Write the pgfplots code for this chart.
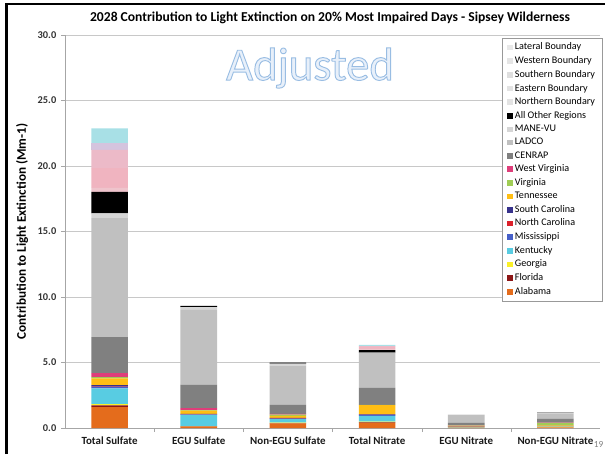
\documentclass[border=0pt]{standalone}
\usepackage{fontspec}
\setmainfont{Carlito}
\usepackage{pgfplots}
\usepackage{pgfplotstable}
\pgfplotsset{compat=1.18}

\definecolor{cAL}{RGB}{228,108,28}
\definecolor{cFL}{RGB}{140,22,22}
\definecolor{cGA}{RGB}{250,240,40}
\definecolor{cKY}{RGB}{88,204,226}
\definecolor{cMS}{RGB}{70,95,200}
\definecolor{cNC}{RGB}{220,32,42}
\definecolor{cSC}{RGB}{55,50,140}
\definecolor{cTN}{RGB}{255,190,20}
\definecolor{cVA}{RGB}{160,205,85}
\definecolor{cWV}{RGB}{222,62,122}
\definecolor{cCEN}{RGB}{128,128,128}
\definecolor{cLAD}{RGB}{192,192,192}
\definecolor{cMANE}{RGB}{214,214,214}
\definecolor{cNorth}{RGB}{238,196,204}
\definecolor{cEast}{RGB}{240,180,192}
\definecolor{cSouth}{RGB}{236,186,200}
\definecolor{cWest}{RGB}{212,196,222}
\definecolor{cLat}{RGB}{168,224,230}
\definecolor{gridc}{RGB}{200,200,200}
\definecolor{wmfill}{RGB}{232,240,250}

% contribution (Mm-1) by source region, one row per category
\pgfplotstableread{
x AL   FL   GA   KY   MS   NC   SC   TN   VA   WV   CEN  LAD  MANE Other North East South West Lat
0 1.60 0.12 0.10 1.20 0.10 0.03 0.13 0.50 0.10 0.30 2.75 9.10 0.35 1.65  0.30  1.50 1.40  0.50 1.15
1 0.10 0.02 0.03 0.85 0.02 0.02 0.03 0.25 0.05 0.15 1.80 5.70 0.20 0.10  0.00  0.00 0.00  0.00 0.00
2 0.35 0.02 0.05 0.25 0.03 0.02 0.05 0.15 0.10 0.05 0.70 3.00 0.15 0.08  0.00  0.00 0.00  0.00 0.00
3 0.40 0.03 0.05 0.45 0.05 0.02 0.05 0.70 0.02 0.00 1.30 2.65 0.03 0.20  0.10  0.15 0.05  0.00 0.10
4 0.02 0.00 0.01 0.05 0.01 0.01 0.01 0.05 0.02 0.02 0.20 0.60 0.02 0.00  0.00  0.00 0.00  0.00 0.00
5 0.05 0.00 0.05 0.03 0.01 0.01 0.02 0.03 0.20 0.02 0.30 0.40 0.03 0.02  0.00  0.00 0.00  0.00 0.00
}\sipsey

\begin{document}
\begin{tikzpicture}
\useasboundingbox (0pt,0pt) rectangle (453.75pt,340.5pt);
\begin{axis}[
  at={(48.75pt,19.5pt)}, anchor=south west,
  scale only axis, width=401.25pt, height=294.75pt,
  ybar stacked, bar width=0.41,
  xmin=-0.5, xmax=5.5, ymin=0, ymax=30,
  xtick={0,...,5},
  xticklabels={Total Sulfate,EGU Sulfate,Non-EGU Sulfate,Total Nitrate,EGU Nitrate,Non-EGU Nitrate},
  minor xtick={0.5,1.5,2.5,3.5,4.5},
  major x tick style={draw=none},
  minor x tick style={draw=gray!70},
  ytick={0,5,...,30},
  y tick style={draw=gray!70},
  tick align=outside,
  major tick length=3pt, minor tick length=3pt,
  /pgf/number format/assume math mode=true,
  yticklabel style={font=\fontsize{7.8}{8}\selectfont\bfseries, text=black!80,
    /pgf/number format/.cd, fixed, fixed zerofill, precision=1},
  xticklabel style={font=\fontsize{8.2}{9}\selectfont\bfseries, text=black!90},
  axis x line*=bottom, axis y line*=left,
  axis line style={draw=gray!70, -},
  ymajorgrids, major grid style={draw=gridc, line width=0.6pt},
  every axis plot/.append style={draw=none},
  legend image code/.code={\fill[#1] (0pt,-2.1pt) rectangle (4.2pt,2.1pt);},
  reverse legend,
  legend cell align=left,
  legend style={at={(1.005,0.992)}, anchor=north east, draw=gray!80, fill=white,
    font=\fontsize{7.6}{8}\selectfont, row sep=0.3pt, inner xsep=4pt, inner ysep=1.8pt,
    nodes={inner ysep=1.6pt, inner xsep=1.5pt},
    /tikz/every even column/.append style={column sep=1pt}},
]
\addplot[fill=cAL] table[x=x,y=AL]{\sipsey};
\addplot[fill=cFL] table[x=x,y=FL]{\sipsey};
\addplot[fill=cGA] table[x=x,y=GA]{\sipsey};
\addplot[fill=cKY] table[x=x,y=KY]{\sipsey};
\addplot[fill=cMS] table[x=x,y=MS]{\sipsey};
\addplot[fill=cNC] table[x=x,y=NC]{\sipsey};
\addplot[fill=cSC] table[x=x,y=SC]{\sipsey};
\addplot[fill=cTN] table[x=x,y=TN]{\sipsey};
\addplot[fill=cVA] table[x=x,y=VA]{\sipsey};
\addplot[fill=cWV] table[x=x,y=WV]{\sipsey};
\addplot[fill=cCEN] table[x=x,y=CEN]{\sipsey};
\addplot[fill=cLAD] table[x=x,y=LAD]{\sipsey};
\addplot[fill=cMANE] table[x=x,y=MANE]{\sipsey};
\addplot[fill=black] table[x=x,y=Other]{\sipsey};
\addplot[fill=cNorth, legend image code/.code={\fill[gray!22] (0pt,-2.1pt) rectangle (4.2pt,2.1pt);}] table[x=x,y=North]{\sipsey};
\addplot[fill=cEast, legend image code/.code={\fill[gray!22] (0pt,-2.1pt) rectangle (4.2pt,2.1pt);}] table[x=x,y=East]{\sipsey};
\addplot[fill=cSouth, legend image code/.code={\fill[gray!26] (0pt,-2.1pt) rectangle (4.2pt,2.1pt);}] table[x=x,y=South]{\sipsey};
\addplot[fill=cWest, legend image code/.code={\fill[gray!20] (0pt,-2.1pt) rectangle (4.2pt,2.1pt);}] table[x=x,y=West]{\sipsey};
\addplot[fill=cLat, legend image code/.code={\fill[gray!18] (0pt,-2.1pt) rectangle (4.2pt,2.1pt);}] table[x=x,y=Lat]{\sipsey};
\legend{Alabama,Florida,Georgia,Kentucky,Mississippi,North Carolina,South Carolina,Tennessee,Virginia,West Virginia,CENRAP,LADCO,MANE-VU,All Other Regions,Northern Boundary,Eastern Boundary,Southern Boundary,Western Boundary,Lateral Bounday}
\end{axis}
\node[font=\fontsize{10.2}{12}\selectfont\bfseries] at (247.5pt,327pt)
  {2028 Contribution to Light Extinction on 20\% Most Impaired Days - Sipsey Wilderness};
\node[rotate=90, font=\fontsize{9.9}{12}\selectfont\bfseries] at (16.5pt,166.9pt)
  {Contribution to Light Extinction (Mm-1)};
\node[font=\fontsize{35}{35}\selectfont, text=wmfill] at (232.5pt,289.5pt)
  {\special{pdf:code q 2 Tr 0.7 w 0.6 0.74 0.89 RG}Adjusted\special{pdf:code Q}};
\node[font=\fontsize{7}{8}\selectfont, text=gray] at (449pt,7pt) {19};
\draw[line width=2.2pt] (5pt,0pt) -- (5pt,337.5pt) -- (453.75pt,337.5pt);
\end{tikzpicture}
\end{document}
